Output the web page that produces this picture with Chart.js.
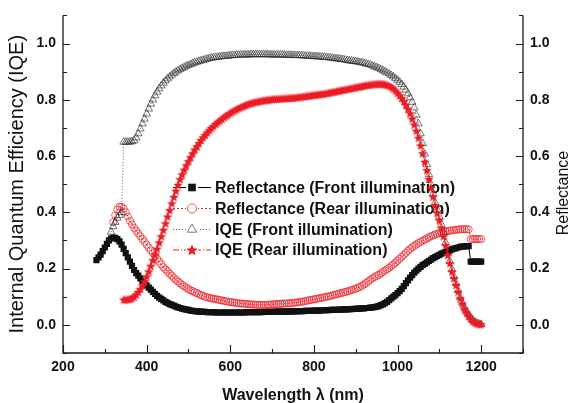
<!DOCTYPE html>
<html>
<head>
<meta charset="utf-8">
<script src="https://cdn.jsdelivr.net/npm/chart.js@4.4.1/dist/chart.umd.min.js"></script>
<style>
  html, body { margin: 0; padding: 0; background: #fff; }
  #chart { display: block; }
</style>
</head>
<body>
<canvas id="chart" width="573" height="403"></canvas>
<script>
// Wavelength grid (nm)
const wavelengths = [
  280, 285, 290, 295, 300, 305, 310, 315, 320, 325,
  330, 335, 340, 345, 350, 355, 360, 365, 370, 375,
  380, 385, 390, 395, 400, 405, 410, 415, 420, 425,
  430, 435, 440, 445, 450, 455, 460, 465, 470, 475,
  480, 485, 490, 495, 500, 505, 510, 515, 520, 525,
  530, 535, 540, 545, 550, 555, 560, 565, 570, 575,
  580, 585, 590, 595, 600, 605, 610, 615, 620, 625,
  630, 635, 640, 645, 650, 655, 660, 665, 670, 675,
  680, 685, 690, 695, 700, 705, 710, 715, 720, 725,
  730, 735, 740, 745, 750, 755, 760, 765, 770, 775,
  780, 785, 790, 795, 800, 805, 810, 815, 820, 825,
  830, 835, 840, 845, 850, 855, 860, 865, 870, 875,
  880, 885, 890, 895, 900, 905, 910, 915, 920, 925,
  930, 935, 940, 945, 950, 955, 960, 965, 970, 975,
  980, 985, 990, 995, 1000, 1005, 1010, 1015, 1020, 1025,
  1030, 1035, 1040, 1045, 1050, 1055, 1060, 1065, 1070, 1075,
  1080, 1085, 1090, 1095, 1100, 1105, 1110, 1115, 1120, 1125,
  1130, 1135, 1140, 1145, 1150, 1155, 1160, 1165, 1170, 1175,
  1180, 1185, 1190, 1195, 1200
];

// Reflectance, front illumination
const reflFront = [
  0.23, 0.24, 0.25, 0.262, 0.275, 0.288, 0.30, 0.307, 0.31, 0.309,
  0.305, 0.297, 0.285, 0.27, 0.255, 0.24, 0.225, 0.21, 0.195, 0.184,
  0.175, 0.165, 0.155, 0.147, 0.14, 0.132, 0.125, 0.117, 0.11, 0.103,
  0.097, 0.092, 0.087, 0.082, 0.078, 0.074, 0.071, 0.068, 0.065, 0.062,
  0.06, 0.058, 0.056, 0.054, 0.053, 0.051, 0.05, 0.049, 0.048, 0.047,
  0.047, 0.046, 0.046, 0.045, 0.045, 0.045, 0.045, 0.044, 0.044, 0.044,
  0.044, 0.044, 0.044, 0.044, 0.044, 0.044, 0.044, 0.044, 0.044, 0.044,
  0.044, 0.044, 0.045, 0.045, 0.045, 0.045, 0.045, 0.045, 0.045, 0.045,
  0.046, 0.046, 0.046, 0.046, 0.046, 0.046, 0.047, 0.047, 0.047, 0.047,
  0.047, 0.047, 0.048, 0.048, 0.048, 0.048, 0.049, 0.049, 0.049, 0.049,
  0.05, 0.05, 0.05, 0.05, 0.051, 0.051, 0.051, 0.051, 0.052, 0.052,
  0.052, 0.052, 0.053, 0.053, 0.053, 0.053, 0.054, 0.054, 0.055, 0.055,
  0.055, 0.056, 0.056, 0.057, 0.057, 0.058, 0.058, 0.059, 0.059, 0.06,
  0.06, 0.061, 0.062, 0.063, 0.065, 0.067, 0.07, 0.073, 0.077, 0.082,
  0.088, 0.094, 0.10, 0.106, 0.113, 0.12, 0.128, 0.138, 0.148, 0.158,
  0.168, 0.177, 0.186, 0.193, 0.20, 0.206, 0.212, 0.217, 0.222, 0.227,
  0.232, 0.237, 0.241, 0.245, 0.249, 0.253, 0.256, 0.259, 0.262, 0.265,
  0.268, 0.271, 0.273, 0.275, 0.277, 0.278, 0.279, 0.28, 0.28, 0.225,
  0.225, 0.225, 0.225, 0.225, 0.225
];

// Reflectance, rear illumination
const reflRear = [
  null, null, null, null, null, null, null, null, 0.365, 0.39,
  0.41, 0.42, 0.42, 0.413, 0.40, 0.385, 0.37, 0.357, 0.345, 0.335,
  0.325, 0.315, 0.305, 0.295, 0.285, 0.275, 0.265, 0.255, 0.245, 0.235,
  0.225, 0.215, 0.205, 0.197, 0.19, 0.182, 0.175, 0.167, 0.16, 0.154,
  0.148, 0.142, 0.137, 0.132, 0.127, 0.123, 0.12, 0.116, 0.113, 0.109,
  0.106, 0.103, 0.10, 0.098, 0.096, 0.094, 0.093, 0.091, 0.09, 0.088,
  0.087, 0.085, 0.084, 0.082, 0.081, 0.08, 0.079, 0.078, 0.077, 0.076,
  0.075, 0.075, 0.074, 0.073, 0.073, 0.072, 0.072, 0.071, 0.071, 0.071,
  0.071, 0.071, 0.072, 0.072, 0.073, 0.073, 0.074, 0.074, 0.075, 0.075,
  0.076, 0.076, 0.077, 0.077, 0.078, 0.079, 0.08, 0.081, 0.082, 0.083,
  0.085, 0.086, 0.088, 0.089, 0.091, 0.092, 0.094, 0.095, 0.097, 0.098,
  0.10, 0.101, 0.103, 0.105, 0.107, 0.109, 0.111, 0.113, 0.115, 0.117,
  0.119, 0.121, 0.124, 0.126, 0.129, 0.132, 0.135, 0.139, 0.144, 0.149,
  0.155, 0.16, 0.166, 0.17, 0.174, 0.178, 0.183, 0.188, 0.193, 0.198,
  0.203, 0.209, 0.215, 0.221, 0.228, 0.235, 0.242, 0.249, 0.256, 0.263,
  0.27, 0.276, 0.281, 0.286, 0.291, 0.295, 0.299, 0.303, 0.307, 0.311,
  0.315, 0.318, 0.321, 0.324, 0.326, 0.328, 0.33, 0.332, 0.333, 0.335,
  0.336, 0.337, 0.338, 0.339, 0.34, 0.34, 0.34, 0.34, 0.34, 0.305,
  0.305, 0.305, 0.305, 0.305, 0.305
];

// IQE, front illumination
const iqeFront = [
  null, null, null, null, null, null, null, 0.33, 0.35, 0.365,
  0.38, 0.39, 0.40, 0.65, 0.65, 0.65, 0.65, 0.652, 0.655, 0.665,
  0.68, 0.697, 0.715, 0.732, 0.75, 0.768, 0.785, 0.80, 0.815, 0.828,
  0.84, 0.85, 0.86, 0.868, 0.875, 0.882, 0.888, 0.894, 0.899, 0.904,
  0.908, 0.912, 0.916, 0.92, 0.923, 0.926, 0.929, 0.932, 0.934, 0.937,
  0.939, 0.941, 0.943, 0.945, 0.947, 0.949, 0.95, 0.951, 0.952, 0.953,
  0.954, 0.955, 0.955, 0.956, 0.957, 0.958, 0.958, 0.959, 0.959, 0.96,
  0.96, 0.96, 0.96, 0.96, 0.961, 0.961, 0.961, 0.961, 0.961, 0.961,
  0.961, 0.961, 0.961, 0.96, 0.96, 0.96, 0.96, 0.96, 0.96, 0.96,
  0.959, 0.959, 0.959, 0.959, 0.958, 0.958, 0.958, 0.958, 0.957, 0.957,
  0.956, 0.956, 0.955, 0.955, 0.954, 0.954, 0.953, 0.953, 0.952, 0.952,
  0.951, 0.95, 0.949, 0.948, 0.947, 0.946, 0.945, 0.944, 0.943, 0.942,
  0.94, 0.939, 0.938, 0.937, 0.936, 0.935, 0.933, 0.932, 0.93, 0.928,
  0.926, 0.924, 0.921, 0.918, 0.915, 0.912, 0.908, 0.904, 0.90, 0.896,
  0.892, 0.887, 0.882, 0.876, 0.87, 0.863, 0.855, 0.846, 0.835, 0.822,
  0.808, 0.792, 0.772, 0.746, 0.715, 0.68, 0.645, 0.608, 0.57, 0.535,
  0.50, 0.467, 0.435, 0.41, 0.385, 0.358, 0.33, 0.293, 0.255, 0.226,
  0.197, 0.172, 0.147, 0.122, 0.098, 0.078, 0.06, 0.047, 0.036, 0.025,
  0.016, 0.01, 0.006, 0.003, 0.002
];

// IQE, rear illumination
const iqeRear = [
  null, null, null, null, null, null, null, null, null, null,
  null, null, null, 0.09, 0.09, 0.091, 0.092, 0.095, 0.10, 0.108,
  0.117, 0.128, 0.14, 0.155, 0.172, 0.19, 0.21, 0.23, 0.25, 0.271,
  0.293, 0.315, 0.338, 0.361, 0.385, 0.408, 0.432, 0.455, 0.477, 0.498,
  0.518, 0.535, 0.552, 0.567, 0.582, 0.596, 0.61, 0.623, 0.635, 0.646,
  0.657, 0.666, 0.675, 0.684, 0.692, 0.70, 0.707, 0.714, 0.72, 0.726,
  0.732, 0.738, 0.743, 0.748, 0.753, 0.758, 0.762, 0.766, 0.77, 0.774,
  0.777, 0.78, 0.783, 0.786, 0.788, 0.79, 0.792, 0.794, 0.795, 0.797,
  0.798, 0.799, 0.80, 0.801, 0.802, 0.803, 0.803, 0.804, 0.804, 0.805,
  0.805, 0.806, 0.806, 0.807, 0.807, 0.808, 0.809, 0.81, 0.811, 0.812,
  0.813, 0.814, 0.815, 0.816, 0.817, 0.818, 0.819, 0.82, 0.821, 0.822,
  0.823, 0.825, 0.826, 0.828, 0.829, 0.831, 0.832, 0.834, 0.835, 0.837,
  0.838, 0.84, 0.841, 0.843, 0.844, 0.846, 0.847, 0.849, 0.85, 0.852,
  0.853, 0.854, 0.855, 0.856, 0.857, 0.857, 0.857, 0.856, 0.855, 0.853,
  0.85, 0.846, 0.84, 0.833, 0.825, 0.816, 0.806, 0.795, 0.782, 0.768,
  0.752, 0.733, 0.712, 0.69, 0.665, 0.638, 0.61, 0.58, 0.55, 0.519,
  0.487, 0.456, 0.425, 0.398, 0.372, 0.344, 0.315, 0.282, 0.248, 0.219,
  0.19, 0.166, 0.142, 0.118, 0.095, 0.076, 0.058, 0.044, 0.032, 0.022,
  0.014, 0.009, 0.005, 0.003, 0.002
];

const seriesLabels = [
  'Reflectance (Front illumination)',
  'Reflectance (Rear illumination)',
  'IQE (Front illumination)',
  'IQE (Rear illumination)'
];

const RED = '#ec1c24';
const FONT = '"Liberation Sans", Arial, sans-serif';

function points(values) {
  const out = [];
  values.forEach((v, i) => {
    if (v !== null) out.push({ x: wavelengths[i], y: v });
  });
  return out;
}

// filled five-pointed star marker
function makeStar(size, color) {
  const c = document.createElement('canvas');
  c.width = c.height = size;
  const g = c.getContext('2d');
  const cx = size / 2, cy = size / 2 + 0.5, ro = size / 2, ri = ro * 0.45;
  g.beginPath();
  for (let i = 0; i < 10; i++) {
    const r = i % 2 ? ri : ro;
    const a = -Math.PI / 2 + i * Math.PI / 5;
    g.lineTo(cx + r * Math.cos(a), cy + r * Math.sin(a));
  }
  g.closePath();
  g.fillStyle = color;
  g.fill();
  return c;
}
const starImg = makeStar(10, RED);
const starLegend = makeStar(12, RED);

const datasets = [
  {
    label: seriesLabels[0],
    data: points(reflFront),
    borderColor: '#000',
    borderWidth: 1,
    backgroundColor: '#000',
    pointStyle: 'rect',
    pointRadius: 4.4,
    pointBorderWidth: 0,
    pointBackgroundColor: '#111',
    yAxisID: 'y2',
    order: 3
  },
  {
    label: seriesLabels[1],
    data: points(reflRear),
    borderColor: RED,
    borderWidth: 1,
    borderDash: [2, 2],
    pointStyle: 'circle',
    pointRadius: 3.6,
    pointBorderWidth: 0.7,
    pointBorderColor: RED,
    pointBackgroundColor: 'rgba(255,255,255,0)',
    yAxisID: 'y2',
    order: 2
  },
  {
    label: seriesLabels[2],
    data: points(iqeFront),
    borderColor: '#666',
    borderWidth: 1,
    borderDash: [1, 2],
    pointStyle: 'triangle',
    pointRadius: 4.4,
    pointBorderWidth: 0.6,
    pointBorderColor: '#222',
    pointBackgroundColor: 'rgba(255,255,255,0)',
    yAxisID: 'y',
    order: 1
  },
  {
    label: seriesLabels[3],
    data: points(iqeRear),
    borderColor: RED,
    borderWidth: 1,
    borderDash: [6, 2, 1, 2],
    pointStyle: starImg,
    pointRadius: 5,
    yAxisID: 'y',
    order: 0
  }
];

function isMajorY(v) {
  return Math.round(v * 10) % 2 === 0;
}

function yLabel(v) {
  const r = Math.round(v * 10);
  if (r < 0 || r > 10 || r % 2 !== 0) return '';
  return (r / 10).toFixed(1);
}

const tickFont = { family: FONT, size: 14, weight: 'bold' };

// axis lines, inward ticks, titles and the in-plot legend
const framePlugin = {
  id: 'frame',
  beforeDatasetsDraw(chart) {
    const ctx = chart.ctx;
    const x0 = 173, x1 = 211, xm = 192, xt = 215;
    const rows = [187.5, 208.5, 229.5, 250];
    ctx.save();
    datasets.forEach((ds, i) => {
      const y = rows[i];
      ctx.strokeStyle = ds.borderColor;
      ctx.lineWidth = 1;
      ctx.setLineDash(ds.borderDash || []);
      ctx.beginPath();
      ctx.moveTo(x0, y);
      ctx.lineTo(x1, y);
      ctx.stroke();
      ctx.setLineDash([]);
      ctx.fillStyle = '#fff';
      ctx.fillRect(xm - 6, y - 6, 12, 12);
      ctx.fillStyle = ds.pointBackgroundColor || ds.backgroundColor || '#000';
      ctx.strokeStyle = ds.pointBorderColor || ds.borderColor;
      ctx.lineWidth = ds.pointBorderWidth || 1;
      Chart.helpers.drawPoint(ctx, {
        pointStyle: i === 3 ? starLegend : ds.pointStyle,
        radius: ds.pointRadius + 1,
        rotation: 0,
        borderWidth: ds.pointBorderWidth || 0
      }, xm, y);
      ctx.fillStyle = '#111';
      ctx.font = 'bold 16px ' + FONT;
      ctx.textAlign = 'left';
      ctx.textBaseline = 'middle';
      ctx.fillText(seriesLabels[i], xt, y + 1);
    });
    ctx.restore();
  },
  afterDraw(chart) {
    const ctx = chart.ctx;
    const a = chart.chartArea;
    const xs = chart.scales.x, ys = chart.scales.y;
    ctx.save();
    ctx.strokeStyle = '#1a1a1a';
    ctx.lineWidth = 1.3;
    ctx.beginPath();
    ctx.moveTo(a.left, a.top);
    ctx.lineTo(a.left, a.bottom);
    ctx.lineTo(a.right, a.bottom);
    ctx.lineTo(a.right, a.top);
    ctx.stroke();

    ctx.lineWidth = 1.1;
    ctx.beginPath();
    ys.ticks.forEach(t => {
      const py = Math.round(ys.getPixelForValue(t.value)) + 0.5;
      const len = isMajorY(t.value) ? 7 : 4;
      ctx.moveTo(a.left, py);
      ctx.lineTo(a.left + len, py);
      ctx.moveTo(a.right, py);
      ctx.lineTo(a.right - len, py);
    });
    xs.ticks.forEach(t => {
      const px = Math.round(xs.getPixelForValue(t.value)) + 0.5;
      const len = t.value % 200 === 0 ? 8 : 4;
      ctx.moveTo(px, a.bottom);
      ctx.lineTo(px, a.bottom - len);
    });
    ctx.stroke();

    ctx.fillStyle = '#111';
    ctx.textAlign = 'center';
    ctx.textBaseline = 'middle';
    ctx.font = 'bold 16px ' + FONT;
    ctx.fillText('Wavelength \u03bb (nm)', (a.left + a.right) / 2, 396);

    ctx.font = '20px ' + FONT;
    ctx.save();
    ctx.translate(17, (a.top + a.bottom) / 2);
    ctx.rotate(-Math.PI / 2);
    ctx.fillText('Internal Quantum Efficiency (IQE)', 0, 0);
    ctx.restore();

    ctx.font = '16px ' + FONT;
    ctx.save();
    ctx.translate(564, 193);
    ctx.rotate(-Math.PI / 2);
    ctx.fillText('Reflectance', 0, 0);
    ctx.restore();
    ctx.restore();
  }
};

new Chart(document.getElementById('chart'), {
  type: 'line',
  data: { datasets: datasets },
  options: {
    responsive: false,
    animation: false,
    devicePixelRatio: 1,
    layout: { padding: { top: 14, left: 0, right: 0, bottom: 0 } },
    elements: { line: { tension: 0 } },
    plugins: {
      legend: { display: false },
      tooltip: { enabled: false }
    },
    scales: {
      x: {
        type: 'linear',
        min: 200,
        max: 1300,
        grid: { display: false, drawTicks: false },
        border: { display: false },
        ticks: {
          stepSize: 100,
          autoSkip: false,
          maxRotation: 0,
          padding: 6,
          color: '#111',
          font: tickFont,
          callback: v => (v % 200 === 0 ? String(v) : '')
        },
        afterFit: s => { s.height = 50; }
      },
      y: {
        position: 'left',
        min: -0.1,
        max: 1.1,
        grid: { display: false, drawTicks: false },
        border: { display: false },
        ticks: {
          stepSize: 0.1,
          autoSkip: false,
          padding: 7,
          color: '#111',
          font: tickFont,
          callback: v => yLabel(v)
        },
        afterFit: s => { s.width = 63; }
      },
      y2: {
        position: 'right',
        min: -0.1,
        max: 1.1,
        grid: { display: false, drawTicks: false },
        border: { display: false },
        ticks: {
          stepSize: 0.1,
          autoSkip: false,
          padding: 7,
          color: '#111',
          font: tickFont,
          callback: v => yLabel(v)
        },
        afterFit: s => { s.width = 50; }
      }
    }
  },
  plugins: [framePlugin]
});
</script>
</body>
</html>
